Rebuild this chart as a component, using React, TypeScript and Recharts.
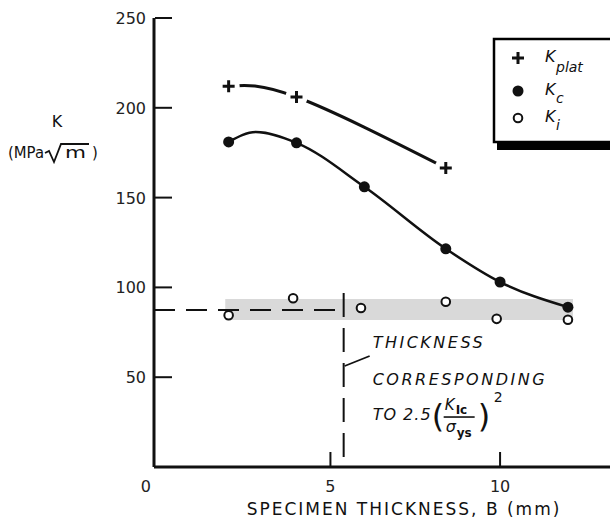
import { ComposedChart, Line, Scatter, XAxis, YAxis, ReferenceArea, ReferenceLine, ReferenceDot } from 'recharts';

// K_plat (+)
const platB = [2, 4, 8.4];
const platK = [212, 206, 166.5];

// K_c (filled dots)
const kcB = [2, 4, 6, 8.4, 10, 12];
const kcK = [181, 180.5, 156, 121.5, 103, 89];

// faired curve through the K_c points as drawn (small hump near B = 2.8)
const kcCurveB = [2, 2.8, 4, 6, 8.4, 10, 12];
const kcCurveK = [181, 186.5, 180.5, 156, 121.5, 103, 89];

// K_i (open dots)
const kiB = [2, 3.9, 5.9, 8.4, 9.9, 12];
const kiK = [84.5, 94, 88.5, 92, 82.5, 82];

// shaded K_Ic scatter band and the validity lines
const bandB = [1.9, 12.15];
const bandK = [81.8, 93.5];
const kIc = 87.4;
const bValid = 5.39;

const xTicks = [0, 5, 10];
const yTicks = [50, 100, 150, 200, 250];

const INK = '#111';
const FONT = "'DejaVu Sans', sans-serif";

const rows = (b: number[], k: number[]) => b.map((B, i) => ({ B, K: k[i] }));

function XTick(props: any) {
    const { x, y, payload } = props;
    const v = payload.value;
    return (
        <g>
            {v !== 0 && <line x1={x} y1={y - 1} x2={x} y2={y - 15} stroke={INK} strokeWidth={2} />}
            <text x={v === 0 ? x - 15 : x} y={y + 25} textAnchor="middle" fontFamily={FONT} fontSize={16} fill="#222">
                {v}
            </text>
        </g>
    );
}

function YTick(props: any) {
    const { x, y, payload } = props;
    return (
        <g>
            <line x1={x + 1} y1={y} x2={x + 18} y2={y} stroke={INK} strokeWidth={2} />
            <text x={x - 8} y={y + 6} textAnchor="end" fontFamily={FONT} fontSize={16} fill="#222">
                {payload.value}
            </text>
        </g>
    );
}

function PlusMark(props: any) {
    const { cx, cy } = props;
    return (
        <g>
            <circle cx={cx} cy={cy} r={11} fill="#fff" />
            <path d={`M${cx - 6},${cy}h12M${cx},${cy - 6}v12`} stroke={INK} strokeWidth={3} />
        </g>
    );
}

function FilledDot(props: any) {
    return <circle cx={props.cx} cy={props.cy} r={5.5} fill={INK} />;
}

function OpenDot(props: any) {
    return <circle cx={props.cx} cy={props.cy} r={4.3} fill="#fff" stroke={INK} strokeWidth={2} />;
}

function XTitle(props: any) {
    const vb = props.viewBox || { x: 154, y: 467 };
    return (
        <text x={vb.x + 250} y={vb.y + 48} textAnchor="middle" fontFamily={FONT} fontSize={17} letterSpacing={2} fill="#111">
            SPECIMEN THICKNESS, B (mm)
        </text>
    );
}

function YTitle(props: any) {
    const vb = props.viewBox || { x: 4, y: 18 };
    const x0 = vb.x;
    const y0 = vb.y;
    return (
        <g fontFamily={FONT} fill="#111">
            <text x={x0 + 53} y={y0 + 109} textAnchor="middle" fontSize={16}>K</text>
            <text x={x0 + 4} y={y0 + 140} fontSize={15} textLength={36} lengthAdjust="spacingAndGlyphs">(MPa</text>
            <path
                d={`M${x0 + 41},${y0 + 135} L${x0 + 45},${y0 + 133} L${x0 + 50},${y0 + 144} L${x0 + 57},${y0 + 126} L${x0 + 85},${y0 + 126}`}
                stroke="#111"
                strokeWidth={1.8}
                fill="none"
            />
            <text x={x0 + 61} y={y0 + 140} fontSize={15} textLength={21} lengthAdjust="spacingAndGlyphs">m</text>
            <text x={x0 + 88} y={y0 + 140} fontSize={15}>)</text>
        </g>
    );
}

function Note(props: any) {
    const { cx, cy } = props;
    const t = { fontFamily: FONT, fontStyle: 'italic', fontSize: 16, fill: INK };
    return (
        <g>
            <line x1={cx + 1} y1={cy + 56} x2={cx + 26} y2={cy + 46} stroke={INK} strokeWidth={1.8} />
            <text x={cx + 29} y={cy + 38} {...t} letterSpacing={2.5}>THICKNESS</text>
            <text x={cx + 29} y={cy + 75} {...t} letterSpacing={2.5}>CORRESPONDING</text>
            <text x={cx + 29} y={cy + 110} {...t} letterSpacing={1}>TO 2.5</text>
            <text x={cx + 88} y={cy + 117} fontFamily={FONT} fontSize={32} fill={INK}>(</text>
            <text x={cx + 101} y={cy + 100} {...t} fontSize={15}>K</text>
            <text x={cx + 112} y={cy + 104} fontFamily={FONT} fontSize={12} fontWeight="bold" fill={INK}>Ic</text>
            <line x1={cx + 100} y1={cy + 107} x2={cx + 131} y2={cy + 107} stroke={INK} strokeWidth={1.6} />
            <text x={cx + 102} y={cy + 122} {...t} fontSize={16}>σ</text>
            <text x={cx + 113} y={cy + 127} fontFamily={FONT} fontSize={12} fontWeight="bold" fill={INK}>ys</text>
            <text x={cx + 134} y={cy + 117} fontFamily={FONT} fontSize={32} fill={INK}>)</text>
            <text x={cx + 150} y={cy + 92} fontFamily={FONT} fontSize={14} fill={INK}>2</text>
        </g>
    );
}

const legendItems = [
    { name: 'K', sub: 'plat', mark: 'plus' },
    { name: 'K', sub: 'c', mark: 'dot' },
    { name: 'K', sub: 'i', mark: 'open' },
];

function LegendBox() {
    const rowY = [58, 91, 118];
    return (
        <svg width={610} height={520} style={{ position: 'absolute', left: 0, top: 0, pointerEvents: 'none' }}>
            <rect x={497} y={141} width={130} height={9} fill="#000" />
            <rect x={494} y={39} width={130} height={103} fill="#fff" stroke="#000" strokeWidth={2.5} />
            {legendItems.map((it, i) => {
                const y = rowY[i];
                return (
                    <g key={it.sub}>
                        {it.mark === 'plus' && <path d={`M512,${y}h12M518,${y - 6}v12`} stroke={INK} strokeWidth={3} />}
                        {it.mark === 'dot' && <circle cx={518} cy={y} r={5.5} fill={INK} />}
                        {it.mark === 'open' && <circle cx={518} cy={y} r={4.3} fill="#fff" stroke={INK} strokeWidth={2} />}
                        <text x={545} y={y + 4} fontFamily={FONT} fontStyle="italic" fontSize={16} fill={INK}>
                            {it.name}
                        </text>
                        <text x={556} y={y + (i === 0 ? 14 : 12)} fontFamily={FONT} fontStyle="italic" fontSize={14} fill={INK}>
                            {it.sub}
                        </text>
                    </g>
                );
            })}
        </svg>
    );
}

export default function App() {
    return (
        <div style={{ position: 'absolute', left: 0, top: 0, width: 610, height: 520, overflow: 'hidden', background: '#fff' }}>
            <ComposedChart width={610} height={520} margin={{ top: 18, right: 0, left: 4, bottom: 0 }}>
                <XAxis
                    dataKey="B"
                    type="number"
                    domain={[-0.2, 13.24]}
                    ticks={xTicks}
                    allowDataOverflow
                    height={53}
                    tickSize={0}
                    tickMargin={0}
                    tickLine={false}
                    tick={<XTick />}
                    axisLine={{ stroke: INK, strokeWidth: 3 }}
                    label={{ content: <XTitle /> }}
                />
                <YAxis
                    type="number"
                    domain={[0, 250]}
                    ticks={yTicks}
                    allowDataOverflow
                    width={150}
                    tickSize={0}
                    tickMargin={0}
                    tickLine={false}
                    tick={<YTick />}
                    axisLine={{ stroke: INK, strokeWidth: 3 }}
                    label={{ content: <YTitle /> }}
                />
                <ReferenceArea x1={bandB[0]} x2={bandB[1]} y1={bandK[0]} y2={bandK[1]} fill="#d9d9d9" fillOpacity={1} stroke="none" />
                <ReferenceLine
                    segment={[{ x: -0.2, y: kIc }, { x: bValid, y: kIc }]}
                    stroke={INK}
                    strokeWidth={2}
                    strokeDasharray="21 11"
                />
                <ReferenceLine
                    segment={[{ x: bValid, y: 96.9 }, { x: bValid, y: 0 }]}
                    stroke={INK}
                    strokeWidth={2}
                    strokeDasharray="24 11"
                />
                <ReferenceDot x={bValid} y={kIc} r={0} shape={<Note />} />
                <Line
                    data={rows(platB, platK)}
                    dataKey="K"
                    type="natural"
                    stroke={INK}
                    strokeWidth={3}
                    dot={false}
                    activeDot={false}
                    isAnimationActive={false}
                />
                <Line
                    data={rows(kcCurveB, kcCurveK)}
                    dataKey="K"
                    type="monotone"
                    stroke={INK}
                    strokeWidth={2.5}
                    dot={false}
                    activeDot={false}
                    isAnimationActive={false}
                />
                <Scatter data={rows(platB, platK)} dataKey="K" shape={<PlusMark />} isAnimationActive={false} />
                <Scatter data={rows(kcB, kcK)} dataKey="K" shape={<FilledDot />} isAnimationActive={false} />
                <Scatter data={rows(kiB, kiK)} dataKey="K" shape={<OpenDot />} isAnimationActive={false} />
            </ComposedChart>
            <LegendBox />
        </div>
    );
}
